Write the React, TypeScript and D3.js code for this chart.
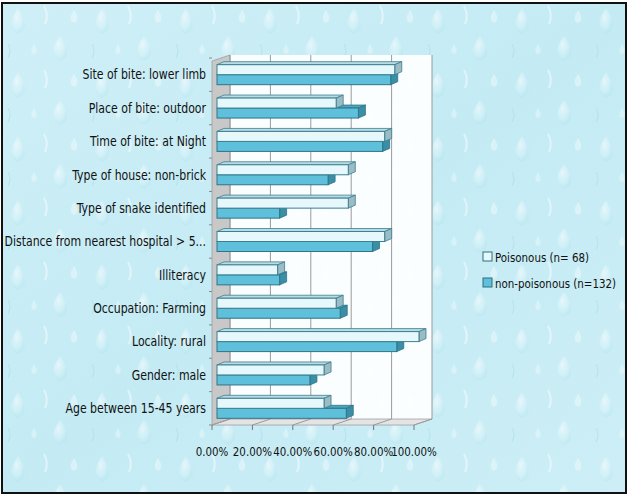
import React from 'react';
import * as d3 from 'd3';

const categories = [
  'Site of bite: lower limb',
  'Place of bite: outdoor',
  'Time of bite: at Night',
  'Type of house: non-brick',
  'Type of snake identified',
  'Distance from nearest hospital > 5...',
  'Illiteracy',
  'Occupation: Farming',
  'Locality: rural',
  'Gender: male',
  'Age between 15-45 years',
];

// share of cases
const poisonous = [0.88, 0.59, 0.83, 0.65, 0.65, 0.83, 0.3, 0.59, 1.0, 0.53, 0.53];
const nonPoisonous = [0.86, 0.7, 0.82, 0.55, 0.31, 0.77, 0.31, 0.61, 0.89, 0.46, 0.64];

const seriesNames = ['Poisonous (n= 68)', 'non-poisonous (n=132)'];
const xTicks = [0, 0.2, 0.4, 0.6, 0.8, 1.0];

const W = 628;
const H = 495;
const FONT = '"DejaVu Sans Condensed", "Liberation Sans Narrow", sans-serif';

const faces = [
  { front: '#e6f8fc', side: '#9bbcc4', top: '#b9dce4', stroke: '#3b7f90' },
  { front: '#5fc0dc', side: '#3a8ea6', top: '#4ba7c1', stroke: '#2f7488' },
];

// 3D offsets
const wallDx = 18;
const wallDy = -6;
const barDx = 7;
const barDy = -3;

const App: React.FC = () => {
  const xFront = d3.scaleLinear().domain([0, 1]).range([212, 414]);
  const xBar = d3.scaleLinear().domain([0, 1]).range([217, 419]);
  const y = d3.scaleBand<string>().domain(categories).range([58, 425]);
  const ySeries = d3.scaleBand<number>().domain([0, 1]).range([-10, 10]);

  const floorY = y.range()[1];
  const topY = y.range()[0] + 3;

  const values = [poisonous, nonPoisonous];

  const bar = (ci: number, si: number) => {
    const v = values[si][ci];
    const x0 = xBar(0);
    const x1 = xBar(v);
    const c = y(categories[ci])! + y.bandwidth() / 2;
    const y0 = c + ySeries(si)!;
    const y1 = y0 + ySeries.bandwidth();
    const f = faces[si];
    const top = `M${x0},${y0}L${x0 + barDx},${y0 + barDy}L${x1 + barDx},${y0 + barDy}L${x1},${y0}Z`;
    const side = `M${x1},${y0}L${x1 + barDx},${y0 + barDy}L${x1 + barDx},${y1 + barDy}L${x1},${y1}Z`;
    return (
      <g key={`${ci}-${si}`}>
        <path d={top} fill={f.top} stroke={f.stroke} strokeWidth={0.8} />
        <path d={side} fill={f.side} stroke={f.stroke} strokeWidth={0.8} />
        <rect x={x0} y={y0} width={x1 - x0} height={y1 - y0} fill={f.front} stroke={f.stroke} strokeWidth={1} />
      </g>
    );
  };

  // draw from bottom category up, lower series first
  const order: [number, number][] = [];
  for (let ci = categories.length - 1; ci >= 0; ci--) {
    order.push([ci, 1]);
    order.push([ci, 0]);
  }

  return (
    <svg width={W} height={H} style={{ position: 'absolute', left: 0, top: 0 }} fontFamily={FONT}>
      <defs>
        <linearGradient id="bg" x1="0" y1="0" x2="1" y2="1">
          <stop offset="0" stopColor="#cfeff7" />
          <stop offset="0.5" stopColor="#c4ebf4" />
          <stop offset="1" stopColor="#cdeef6" />
        </linearGradient>
        <radialGradient id="drop" cx="0.4" cy="0.35" r="0.6">
          <stop offset="0" stopColor="#ffffff" stopOpacity="0.55" />
          <stop offset="0.7" stopColor="#e6f8fc" stopOpacity="0.25" />
          <stop offset="1" stopColor="#a9dfec" stopOpacity="0.2" />
        </radialGradient>
        <pattern id="drops" width="84" height="64" patternUnits="userSpaceOnUse">
          <path d="M18,8 C10,20 8,30 18,34 C28,30 26,20 18,8Z" fill="url(#drop)" />
          <path d="M60,36 C51,48 50,58 60,61 C70,58 69,48 60,36Z" fill="url(#drop)" />
          <path d="M44,6 q5,9 1,18" stroke="#ffffff" strokeWidth="2" fill="none" opacity="0.45" />
          <path d="M8,44 q4,7 0,14" stroke="#a4dbe9" strokeWidth="1.2" fill="none" opacity="0.5" />
          <path d="M74,10 C70,16 69,21 74,23 C79,21 78,16 74,10Z" fill="#ffffff" fillOpacity="0.35" />
          <path d="M34,44 C31,49 30,53 34,54 C38,53 37,49 34,44Z" fill="#ffffff" fillOpacity="0.3" />
        </pattern>
      </defs>
      <rect x={0} y={0} width={W} height={H} fill="#ffffff" />
      <rect x={2} y={3} width={W - 4} height={H - 5} fill="url(#bg)" />
      <rect x={2} y={3} width={W - 4} height={H - 5} fill="url(#drops)" />
      <rect x={2} y={3} width={W - 4} height={H - 5} fill="none" stroke="#111" strokeWidth={2} />

      {/* back wall */}
      <rect
        x={xFront(0) + wallDx}
        y={topY + wallDy}
        width={xFront(1) - xFront(0)}
        height={floorY - topY}
        fill="#ffffff"
        fillOpacity={0.92}
      />
      {/* left wall */}
      <path
        d={`M${xFront(0)},${topY}L${xFront(0) + wallDx},${topY + wallDy}L${xFront(0) + wallDx},${floorY + wallDy}L${xFront(0)},${floorY}Z`}
        fill="#c8c8c8"
        stroke="#a0a0a0"
        strokeWidth={0.8}
      />
      {/* floor */}
      <path
        d={`M${xFront(0)},${floorY}L${xFront(0) + wallDx},${floorY + wallDy}L${xFront(1) + wallDx},${floorY + wallDy}L${xFront(1)},${floorY}Z`}
        fill="#e4e4e4"
        stroke="#a0a0a0"
        strokeWidth={0.8}
      />
      {/* gridlines */}
      {xTicks.map((t) => (
        <g key={t} stroke="#9a9a9a" strokeWidth={1}>
          <line x1={xFront(t) + wallDx} x2={xFront(t) + wallDx} y1={topY + wallDy} y2={floorY + wallDy} />
          <line x1={xFront(t)} y1={floorY} x2={xFront(t) + wallDx} y2={floorY + wallDy} />
          <line x1={xFront(t)} x2={xFront(t)} y1={floorY} y2={floorY + 5} stroke="#777" />
        </g>
      ))}
      {/* category ticks on the left wall */}
      {categories.map((c) => (
        <line key={c} x1={xFront(0) - 3} x2={xFront(0)} y1={y(c)!} y2={y(c)!} stroke="#888" />
      ))}
      <line x1={xFront(0) - 3} x2={xFront(0)} y1={floorY} y2={floorY} stroke="#888" />

      {order.map(([ci, si]) => bar(ci, si))}

      {/* category labels */}
      {categories.map((c) => (
        <text
          key={c}
          transform={`translate(206,${y(c)! + y.bandwidth() / 2}) scale(0.9,1)`}
          dy="0.35em"
          textAnchor="end"
          fontSize={13.5}
          fill="#111"
        >
          {c}
        </text>
      ))}

      {/* x tick labels */}
      {xTicks.map((t) => (
        <text
          key={t}
          transform={`translate(${xFront(t)},451) scale(0.88,1)`}
          dy="0.35em"
          textAnchor="middle"
          fontSize={13}
          fill="#111"
        >
          {d3.format('.2%')(t)}
        </text>
      ))}

      {/* legend */}
      {seriesNames.map((s, i) => (
        <g key={s} transform={`translate(483,${257 + i * 26})`}>
          <rect x={0} y={-5} width={9} height={9} fill={faces[i].front} stroke="#2f6f80" strokeWidth={1} />
          <text transform="translate(12,0) scale(0.88,1)" dy="0.35em" fontSize={13} fill="#111">
            {s}
          </text>
        </g>
      ))}
    </svg>
  );
};

export default App;
